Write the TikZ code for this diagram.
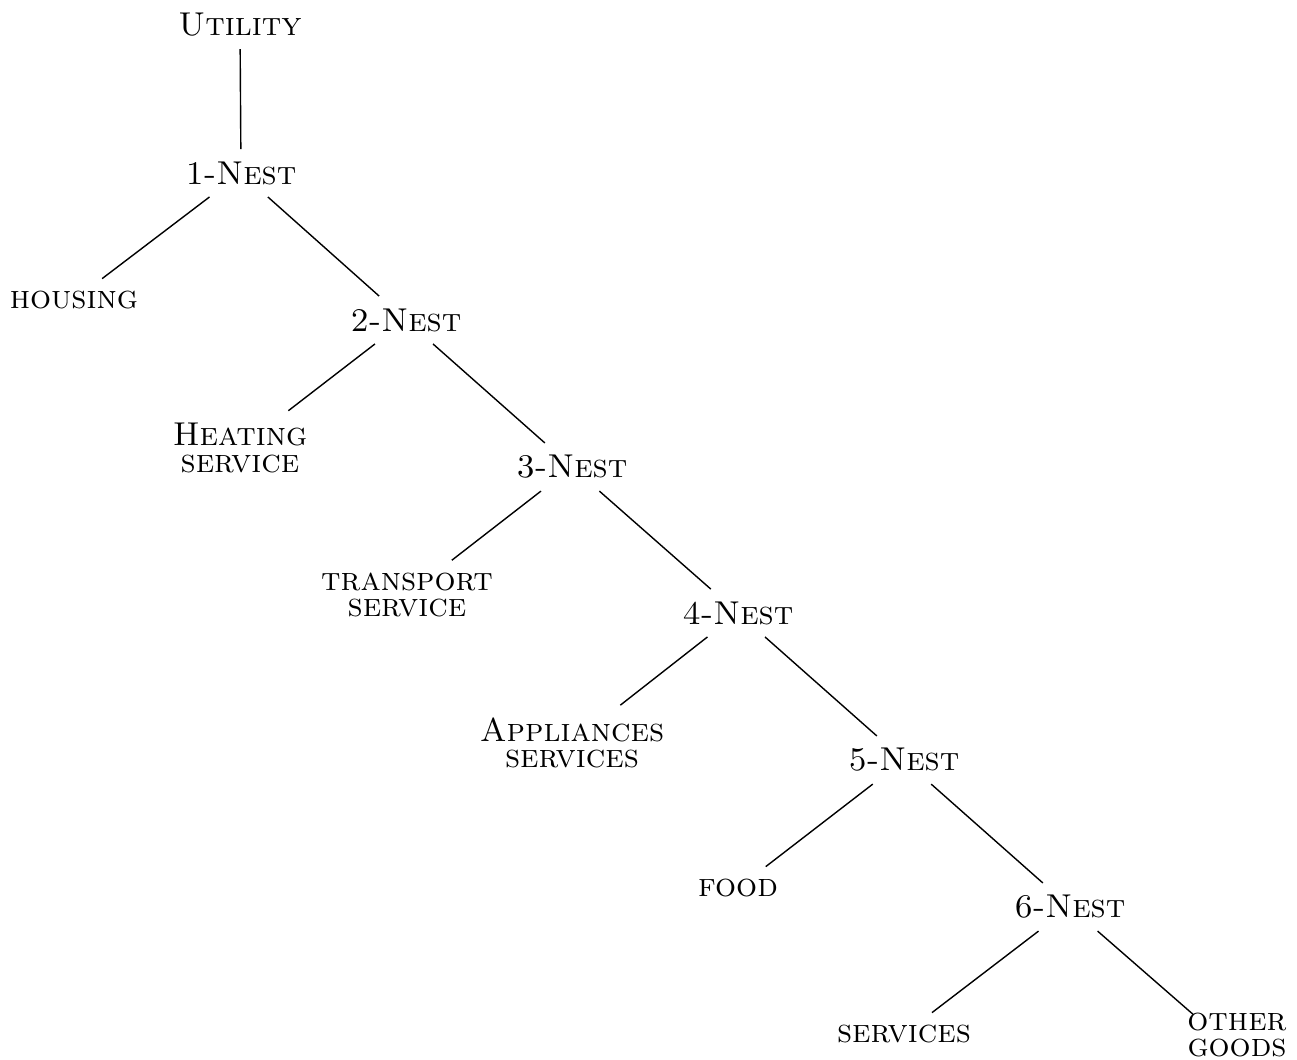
\documentclass[tikz,border=0pt]{standalone}
\begin{document}
\begin{tikzpicture}[x=0.01cm,y=-0.01cm,
  lbl/.style={align=center,font=\fontsize{9.4pt}{7.6pt}\selectfont\scshape},
  edge/.style={draw,line width=0.4pt}]
\useasboundingbox (0,0) rectangle (1297,1059);
\node[lbl] (u) at (240,25) {Utility};
\node[lbl] (n1) at (241,173) {1-Nest};
\node[lbl] (housing) at (74,300) {housing};
\node[lbl] (n2) at (406,320) {2-Nest};
\node[lbl] (heat) at (240,448) {Heating\\service};
\node[lbl] (n3) at (572,467) {3-Nest};
\node[lbl] (trans) at (407,595) {transport\\service};
\node[lbl] (n4) at (738,613) {4-Nest};
\node[lbl] (appl) at (572,743) {Appliances\\services};
\node[lbl] (n5) at (904,760) {5-Nest};
\node[lbl] (food) at (738,888) {food};
\node[lbl] (n6) at (1070,907) {6-Nest};
\node[lbl] (serv) at (904,1034) {services};
\node[lbl] (other) at (1237,1035) {other\\goods};
\draw[edge] (u) -- (n1);
\draw[edge] (n1) -- (housing);
\draw[edge] (n1) -- (n2);
\draw[edge] (n2) -- (heat);
\draw[edge] (n2) -- (n3);
\draw[edge] (n3) -- (trans);
\draw[edge] (n3) -- (n4);
\draw[edge] (n4) -- (appl);
\draw[edge] (n4) -- (n5);
\draw[edge] (n5) -- (food);
\draw[edge] (n5) -- (n6);
\draw[edge] (n6) -- (serv);
\draw[edge] (n6) -- ([xshift=0.18cm,yshift=-0.14cm]other.north west);
\end{tikzpicture}
\end{document}
